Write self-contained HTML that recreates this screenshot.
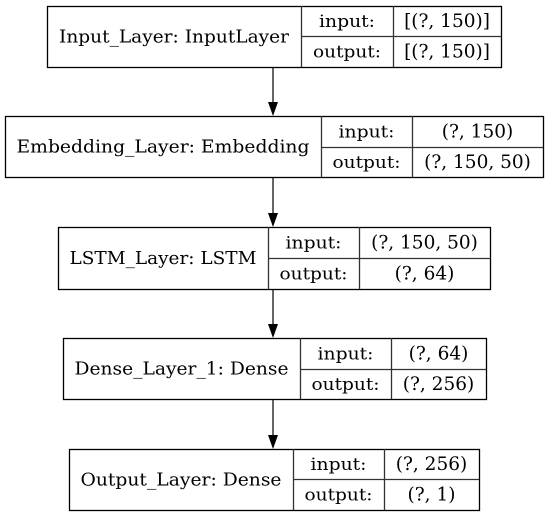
<!DOCTYPE html>
<html><head><meta charset="utf-8"><style>
html,body{margin:0;padding:0;background:#fff;}
svg{display:block;font-family:"DejaVu Serif","Liberation Serif",serif;}
</style></head><body>
<svg width="547" height="516" viewBox="0 0 547 516">
<g id="root"></g>
</svg>
<script>
const layerNames = ["Input_Layer: InputLayer","Embedding_Layer: Embedding","LSTM_Layer: LSTM","Dense_Layer_1: Dense","Output_Layer: Dense"];
const inputShapes = ["[(?, 150)]","(?, 150)","(?, 150, 50)","(?, 64)","(?, 256)"];
const outputShapes = ["[(?, 150)]","(?, 150, 50)","(?, 64)","(?, 256)","(?, 1)"];
const nameWidths = [230,293,187,214,201];
const boxX = [[47,301,393,501],[5,321,412,543],[58,268,359,490],[63,300,391,486],[69,293,384,479]];
const boxY = [[6,36,67],[116,147,177],[227,258,289],[338,369,399],[449,479,510]];
const root = document.getElementById('root');
const NS = 'http://www.w3.org/2000/svg';
function mk(tag, attrs, parent){const e=document.createElementNS(NS,tag);for(const k in attrs)e.setAttribute(k,attrs[k]);parent.appendChild(e);return e;}
const ax = 273;
layerNames.forEach((name,i)=>{
  const [x0,x1,x2,x3]=boxX[i], [y0,ym,y1]=boxY[i];
  const g=mk('g',{},root);
  
  
  mk('rect',{x:x0+0.5,y:y0+0.5,width:x3-x0,height:y1-y0,fill:'#fff',stroke:'#000','stroke-width':1.3},g);
  mk('line',{x1:x1+0.5,y1:y0,x2:x1+0.5,y2:y1,stroke:'#333','stroke-width':1.3},g);
  mk('line',{x1:x2+0.5,y1:y0,x2:x2+0.5,y2:y1,stroke:'#333','stroke-width':1.3},g);
  mk('line',{x1:x1,y1:ym+0.5,x2:x3,y2:ym+0.5,stroke:'#333','stroke-width':1.3},g);
  const t=mk('text',{x:(x0+x1)/2,y:(y0+y1)/2+6,'text-anchor':'middle','font-size':18,textLength:nameWidths[i],lengthAdjust:'spacingAndGlyphs',fill:'#000'},g);
  t.textContent=name;
  
  
  const a=mk('text',{x:(x1+x2)/2,y:(y0+ym)/2+6,'text-anchor':'middle','font-size':17,textLength:56,lengthAdjust:'spacingAndGlyphs'},g);a.textContent='input:';
  
  
  const b=mk('text',{x:(x1+x2)/2,y:(ym+y1)/2+6,'text-anchor':'middle','font-size':17,textLength:68,lengthAdjust:'spacingAndGlyphs'},g);b.textContent='output:';
  
  
  const c=mk('text',{x:(x2+x3)/2,y:(y0+ym)/2+6,'text-anchor':'middle','font-size':18.5},g);c.textContent=inputShapes[i];
  
  
  const d=mk('text',{x:(x2+x3)/2,y:(ym+y1)/2+6,'text-anchor':'middle','font-size':18.5},g);d.textContent=outputShapes[i];
  
  
  if(i<layerNames.length-1){
    const ny=boxY[i+1][0];
    const ag=mk('g',{},root);
    
    
    mk('line',{x1:ax,y1:y1+1,x2:ax,y2:ny-13,stroke:'#000','stroke-width':1.2},ag);
    mk('polygon',{points:`${ax-5},${ny-14} ${ax+5},${ny-14} ${ax},${ny}`,fill:'#000'},ag);
  }
});
</script>
</body></html>
